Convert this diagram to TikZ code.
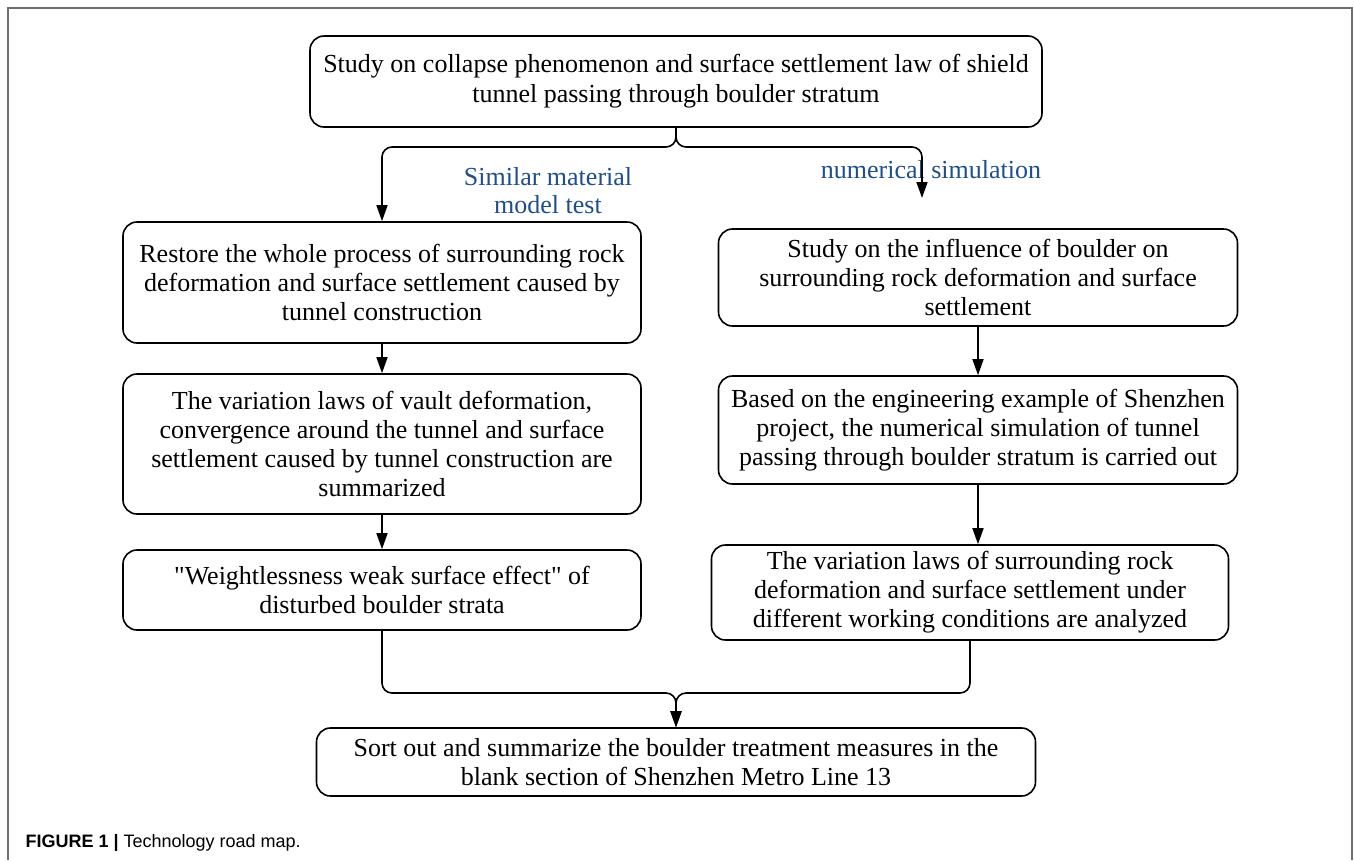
\documentclass[tikz,border=0pt]{standalone}
\usepackage{fontspec}
\setmainfont{Liberation Serif}
\newfontfamily\qfont{Liberation Serif}
\newfontfamily\capfont{Liberation Sans}
\usetikzlibrary{arrows.meta}
\definecolor{labblue}{HTML}{1F4E8C}
\definecolor{framegray}{HTML}{6E6E6E}
\begin{document}
\begin{tikzpicture}[x=1pt,y=-1pt,
  box/.style={draw, line width=1.6pt, rounded corners=14pt, align=center,
    font=\fontsize{26}{29}\selectfont, inner sep=0pt},
  conn/.style={line width=1.6pt},
  arr/.style={conn, -{Triangle[length=16pt,width=11pt]}},
  lbl/.style={text=labblue, font=\fontsize{26}{28}\selectfont, align=center}]
\useasboundingbox (0,0) rectangle (1354,860);
\draw[framegray, line width=2.5pt] (8,860) -- (8,8) -- (1352,8) -- (1352,860);

\node[box, minimum width=732pt, minimum height=91pt, font=\fontsize{26}{30}\selectfont] (top) at (676,81.5)
  {Study on collapse phenomenon and surface settlement law of shield\\tunnel passing through boulder stratum};

\node[box, minimum width=518pt, minimum height=121pt] (L1) at (382,282.5)
  {Restore the whole process of surrounding rock\\deformation and surface settlement caused by\\tunnel construction};
\node[box, minimum width=518pt, minimum height=140pt] (L2) at (382,444)
  {The variation laws of vault deformation,\\convergence around the tunnel and surface\\settlement caused by tunnel construction are\\summarized};
\node[box, minimum width=518pt, minimum height=80pt] (L3) at (382,590)
  {{\qfont"}Weightlessness weak surface effect{\qfont"} of\\disturbed boulder strata};

\node[box, minimum width=519pt, minimum height=97pt] (R1) at (978,277.5)
  {Study on the influence of boulder on\\surrounding rock deformation and surface\\settlement};
\node[box, minimum width=519pt, minimum height=108pt] (R2) at (978,430)
  {Based on the engineering example of Shenzhen\\project, the numerical simulation of tunnel\\passing through boulder stratum is carried out};
\node[box, minimum width=517pt, minimum height=95pt] (R3) at (970,592.5)
  {The variation laws of surrounding rock\\deformation and surface settlement under\\different working conditions are analyzed};

\node[box, minimum width=719pt, minimum height=68pt] (B) at (676,762)
  {Sort out and summarize the boulder treatment measures in the\\blank section of Shenzhen Metro Line 13};

\node[lbl] (lab1) at (548,191) {Similar material\\model test};
\node[lbl] (lab2) at (931,170) {numerical simulation};

\coordinate (s) at (676,147);
\coordinate (rtip) at (922,198);
\draw[arr, rounded corners=10pt] (top.south) -- (s) -- (s -| L1.north) -- (L1.north);
\draw[arr, rounded corners=10pt] (top.south) -- (s) -- (s -| rtip) -- (rtip);

\draw[arr] (L1.south) -- (L2.north);
\draw[arr] (L2.south) -- (L3.north);
\draw[arr] (R1.south) -- (R2.north);
\draw[arr] (R2.south) -- (R2.south |- R3.north);

\coordinate (m) at (676,693);
\draw[arr, rounded corners=10pt] (L3.south) -- (L3.south |- m) -- (m) -- (B.north);
\draw[arr, rounded corners=10pt] (R3.south) -- (R3.south |- m) -- (m) -- (B.north);

\node[anchor=west, font=\capfont\fontsize{18}{22}\selectfont] (cap) at (22,843)
  {\textbf{FIGURE 1 |} Technology road map.};
\end{tikzpicture}
\end{document}
